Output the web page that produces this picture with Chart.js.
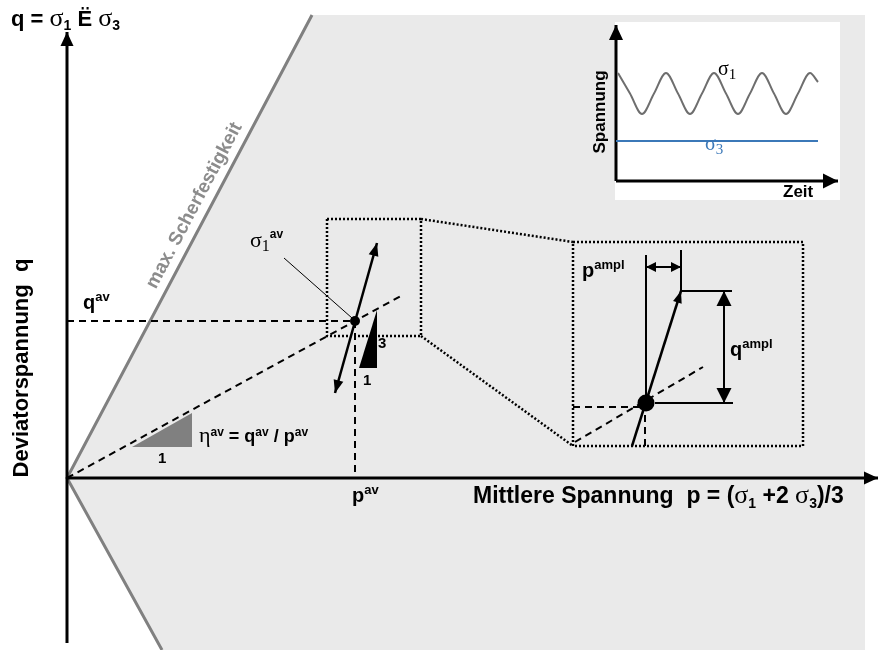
<!DOCTYPE html>
<html>
<head>
<meta charset="utf-8">
<script src="https://cdn.jsdelivr.net/npm/chart.js@4.4.1/dist/chart.umd.min.js"></script>
<style>
  body { margin: 0; background: #fff; }
  #wrap { width: 880px; height: 650px; }
</style>
</head>
<body>
<div id="wrap"><canvas id="myChart"></canvas></div>
<script>
// p-q plane, origin where the two axes cross (units ~ pixels)
const shearZone = [[0, 0], [245, 463], [798, 463], [798, -172], [95, -172]];
const failureLine = [[95, -172], [0, 0], [245, 463]];
const qAxis = [[0, -165], [0, 446]];
const pAxis = [[0, 0], [811, 0]];

const avgPoint = [[288, 157]];
const stressPath = [[0, 0], [333, 181.5]];
const qAvLine = [[0, 157], [288, 157]];
const pAvLine = [[288, 157], [288, 0]];
const loadPath = [[268, 85], [310, 235]];
const slopeTriangle = [[292, 110], [310, 110], [310, 168], [292, 110]];
const etaTriangle = [[65, 31], [125, 31], [125, 65], [65, 31]];
const sigmaLeader = [[217, 220], [285, 160]];
const zoomBox = [[260, 259], [354, 259], [354, 142], [260, 142], [260, 259]];
const zoomLinkTop = [[354, 259], [506, 236]];
const zoomLinkBottom = [[354, 142], [506, 32]];

// enlarged detail
const detailBox = [[506, 236], [736, 236], [736, 32], [506, 32], [506, 236]];
const detailPoint = [[579, 75]];
const detailPath = [[508, 36], [636, 111]];
const detailQav = [[506, 71], [579, 71]];
const detailPav = [[578, 75], [578, 32]];
const detailLoad = [[565, 32], [614, 187]];
const detailLeft = [[579, 223], [579, 75]];
const detailRight = [[614, 228], [614, 187]];
const detailTop = [[614, 187], [665, 187]];
const detailBottom = [[588, 75], [666, 75]];
const pAmplArrow = [[579, 211], [614, 211]];
const qAmplArrow = [[657, 187], [657, 75]];

// inset: stress over time
const insetBox = [[548, 456], [773, 456], [773, 278], [548, 278], [548, 456]];
const insetTimeAxis = [[549, 297], [771, 297]];
const insetStressAxis = [[549, 297], [549, 453]];
const waveTime = [551, 563, 575, 587, 599, 611, 623, 635, 647, 659, 671, 683, 695, 707, 719, 731, 743, 751];
const sigma1Wave = [405, 384.5, 364, 384.5, 405, 384.5, 364, 384.5, 405, 384.5, 364, 384.5, 405, 384.5, 364, 384.5, 405, 396];
const sigma3Line = [[549, 337], [751, 337]];

const SANS = '"Liberation Sans", Arial, sans-serif';
const SERIF = '"Liberation Serif", "Times New Roman", serif';
const fonts = {
  b23: 'bold 23px ' + SANS, b22: 'bold 22px ' + SANS, b20: 'bold 20px ' + SANS,
  b19: 'bold 19px ' + SANS, b18: 'bold 18px ' + SANS, b17: 'bold 17px ' + SANS,
  b15: 'bold 15px ' + SANS, b14: 'bold 14px ' + SANS, b13: 'bold 13px ' + SANS,
  b12: 'bold 12px ' + SANS,
  g26: '26px ' + SERIF, g22: '22px ' + SERIF, g20: '20px ' + SERIF,
  g16: '16px ' + SERIF, g15: '15px ' + SERIF
};

// text runs: [text, font, raise]
const labels = [
  { at: [-56, 452], runs: [['q = ', 'b22'], ['σ', 'g26'], ['1', 'b14', -4], [' Ë ', 'b22'], ['σ', 'g26'], ['3', 'b14', -4]] },
  { at: [-39, 110], rotate: -90, center: true, runs: [['Deviatorspannung  q', 'b22']] },
  { at: [132, 270], rotate: -62.1, center: true, color: '#8c8c8c', runs: [['max. Scherfestigkeit', 'b19']] },
  { at: [16, 169], runs: [['q', 'b20'], ['av', 'b13', 8]] },
  { at: [285, -24], runs: [['p', 'b20'], ['av', 'b13', 8]] },
  { at: [132, 36], runs: [['η', 'g22'], ['av', 'b12', 6], [' = q', 'b18'], ['av', 'b12', 6], [' / p', 'b18'], ['av', 'b12', 6]] },
  { at: [91, 15], runs: [['1', 'b15']] },
  { at: [183, 231], runs: [['σ', 'g22'], ['1', 'g16', -4], ['av', 'b12', 9]] },
  { at: [311, 130], runs: [['3', 'b15']] },
  { at: [296, 93], runs: [['1', 'b15']] },
  { at: [515, 201], runs: [['p', 'b20'], ['ampl', 'b13', 8]] },
  { at: [663, 122], runs: [['q', 'b20'], ['ampl', 'b13', 8]] },
  { at: [406, -25], runs: [['Mittlere Spannung  p = (', 'b23'], ['σ', 'g26'], ['1', 'b14', -5], [' +2 ', 'b23'], ['σ', 'g26'], ['3', 'b14', -5], [')/3', 'b23']] },
  { at: [651, 403], runs: [['σ', 'g20'], ['1', 'g15', -4]] },
  { at: [638, 328], color: '#3b78b8', runs: [['σ', 'g20'], ['3', 'g15', -4]] },
  { at: [538, 366], rotate: -90, center: true, runs: [['Spannung', 'b17']] },
  { at: [716, 281], runs: [['Zeit', 'b17']] }
];

const pts = arr => arr.map(p => ({ x: p[0], y: p[1] }));

function line(data, opts) {
  return Object.assign({
    data: pts(data), showLine: true, borderColor: '#000', borderWidth: 2,
    pointRadius: 0, fill: false, backgroundColor: '#000'
  }, opts);
}
function shape(data, color) {
  return line(data, { borderWidth: 0, borderColor: color, backgroundColor: color, fill: 'shape' });
}

const DASH = [7, 5];
const DOT = [2, 2];

const datasets = [
  shape(shearZone, '#eaeaea'),
  line(failureLine, { borderColor: '#808080', borderWidth: 3 }),
  shape(insetBox, '#ffffff'),
  line(qAxis, { borderWidth: 3, arrow: 'end', head: [14, 6.5] }),
  line(pAxis, { borderWidth: 3, arrow: 'end', head: [14, 6.5] }),
  shape(etaTriangle, '#808080'),
  line(stressPath, { borderDash: DASH }),
  line(qAvLine, { borderDash: DASH }),
  line(pAvLine, { borderDash: DASH }),
  line(zoomBox, { borderDash: DOT, borderWidth: 2.5 }),
  line(zoomLinkTop, { borderDash: DOT, borderWidth: 2.5 }),
  line(zoomLinkBottom, { borderDash: DOT, borderWidth: 2.5 }),
  line(detailBox, { borderDash: DOT, borderWidth: 2.5 }),
  shape(slopeTriangle, '#000000'),
  line(sigmaLeader, { borderWidth: 1 }),
  line(loadPath, { borderWidth: 2.5, arrow: 'both', head: [13, 5] }),
  line(avgPoint, { showLine: false, pointRadius: 5, pointBackgroundColor: '#000', pointBorderWidth: 0 }),
  line(detailPath, { borderDash: DASH }),
  line(detailQav, { borderDash: DASH }),
  line(detailPav, { borderDash: DASH }),
  line(detailLeft, {}),
  line(detailRight, {}),
  line(detailTop, {}),
  line(detailBottom, {}),
  line(detailLoad, { borderWidth: 2.5, arrow: 'end', head: [12, 4.5] }),
  line(pAmplArrow, { arrow: 'both', head: [10, 5] }),
  line(qAmplArrow, { arrow: 'both', head: [15, 7.5] }),
  line(detailPoint, { showLine: false, pointRadius: 8.5, pointBackgroundColor: '#000', pointBorderWidth: 0 }),
  line(insetTimeAxis, { borderWidth: 3, arrow: 'end', head: [15, 7.5] }),
  line(insetStressAxis, { borderWidth: 3, arrow: 'end', head: [15, 7] }),
  {
    data: waveTime.map((t, i) => ({ x: t, y: sigma1Wave[i] })), showLine: true,
    borderColor: '#6e6e6e', borderWidth: 2, pointRadius: 0, fill: false,
    cubicInterpolationMode: 'monotone'
  },
  line(sigma3Line, { borderColor: '#3b78b8', borderWidth: 2 })
];
// first in list is drawn first (underneath)
datasets.forEach((ds, i) => { ds.order = datasets.length - i; });

const arrowPlugin = {
  id: 'arrowHeads',
  afterDatasetsDraw(chart) {
    const ctx = chart.ctx;
    chart.data.datasets.forEach((ds, i) => {
      if (!ds.arrow) return;
      const el = chart.getDatasetMeta(i).data;
      const [len, half] = ds.head;
      const draw = (from, tip) => {
        const a = Math.atan2(tip.y - from.y, tip.x - from.x);
        ctx.save();
        ctx.translate(tip.x, tip.y);
        ctx.rotate(a);
        ctx.beginPath();
        ctx.moveTo(0, 0);
        ctx.lineTo(-len, half);
        ctx.lineTo(-len, -half);
        ctx.closePath();
        ctx.fillStyle = ds.borderColor;
        ctx.fill();
        ctx.restore();
      };
      draw(el[el.length - 2], el[el.length - 1]);
      if (ds.arrow === 'both') draw(el[1], el[0]);
    });
  }
};

const labelPlugin = {
  id: 'richLabels',
  afterDatasetsDraw(chart) {
    const { ctx, scales: { x, y } } = chart;
    labels.forEach(l => {
      ctx.save();
      ctx.translate(x.getPixelForValue(l.at[0]), y.getPixelForValue(l.at[1]));
      if (l.rotate) ctx.rotate(l.rotate * Math.PI / 180);
      ctx.fillStyle = l.color || '#000';
      ctx.textBaseline = 'alphabetic';
      ctx.textAlign = 'left';
      let w = 0;
      l.runs.forEach(r => { ctx.font = fonts[r[1]]; w += ctx.measureText(r[0]).width; });
      let cx = l.center ? -w / 2 : 0;
      l.runs.forEach(r => {
        ctx.font = fonts[r[1]];
        ctx.fillText(r[0], cx, -(r[2] || 0));
        cx += ctx.measureText(r[0]).width;
      });
      ctx.restore();
    });
  }
};

new Chart(document.getElementById('myChart'), {
  type: 'scatter',
  data: { datasets: datasets },
  options: {
    responsive: true,
    maintainAspectRatio: false,
    animation: false,
    events: [],
    layout: { padding: 0, autoPadding: false },
    elements: { line: { tension: 0 } },
    plugins: { legend: { display: false }, tooltip: { enabled: false } },
    scales: {
      x: { type: 'linear', min: -67, max: 813, display: false },
      y: { type: 'linear', min: -172, max: 478, display: false }
    }
  },
  plugins: [arrowPlugin, labelPlugin]
});
</script>
</body>
</html>
